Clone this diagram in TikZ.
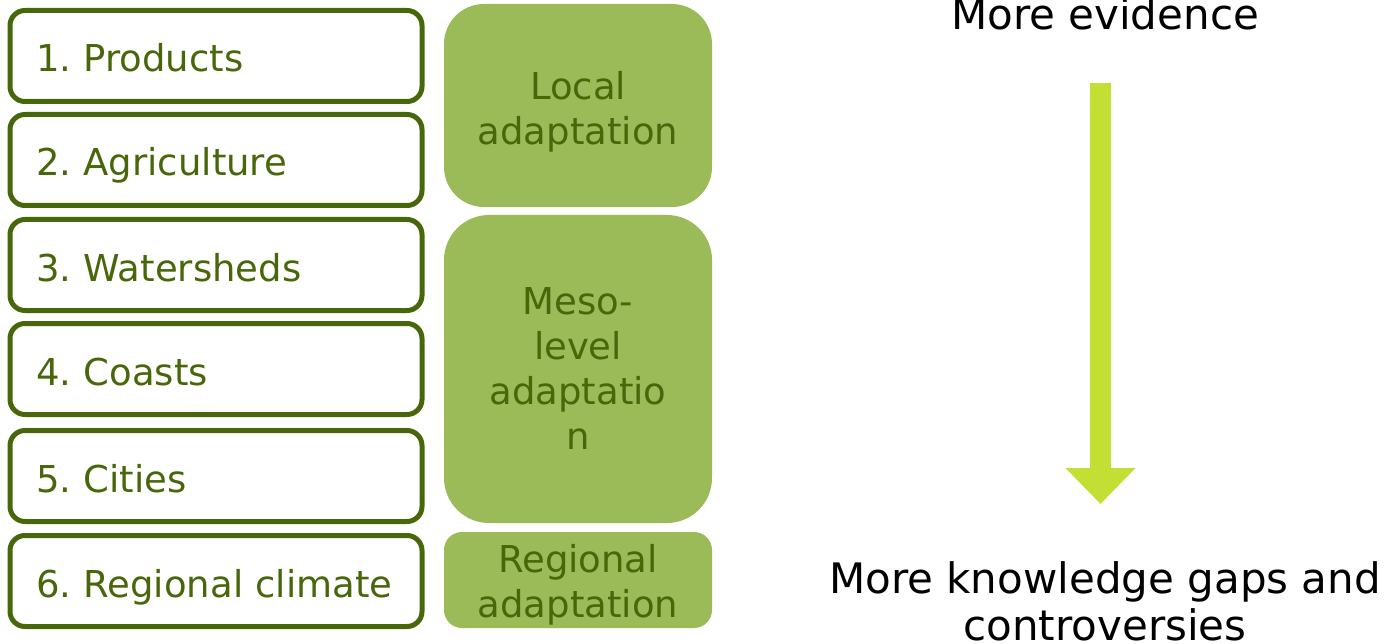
\documentclass[tikz,border=0pt]{standalone}
\usepackage{fontspec}
\setmainfont{DejaVu Sans}
\usetikzlibrary{arrows.meta}
\frenchspacing

\definecolor{leafdark}{RGB}{72,102,10}
\definecolor{olivefill}{RGB}{155,187,89}
\definecolor{limearrow}{RGB}{196,223,51}

\begin{document}
\begin{tikzpicture}[
        x=1pt, y=-1pt,
        scalebox/.style={draw=leafdark,line width=5pt,rounded corners=15pt,
            minimum width=412pt,minimum height=91pt,text width=368pt,inner xsep=22pt,
            align=left,text height=32pt,text depth=0pt,text=leafdark,
            font=\fontsize{37}{45}\selectfont},
        adaptbox/.style={fill=olivefill,minimum width=268pt,minimum height=#1,
            align=center,text=leafdark,inner sep=0pt,
            font=\fontsize{37}{45}\selectfont},
        trendtext/.style={align=center,text=black,font=\fontsize{42}{47}\selectfont}
    ]
        \useasboundingbox (0,0) rectangle (1388,644);

        % scales
        \node [scalebox] (products)    at (216,56)  {\hspace*{4pt}1. Products};
        \node [scalebox] (agriculture) at (216,160) {\hspace*{4pt}2. Agriculture};
        \node [scalebox] (watersheds)  at (216,265) {\hspace*{4pt}3. Watersheds};
        \node [scalebox] (coasts)      at (216,369) {\hspace*{4pt}4. Coasts};
        \node [scalebox] (cities)      at (216,476) {\hspace*{4pt}5. Cities};
        \node [scalebox] (climate)     at (216,581) {\hspace*{4pt}6. Regional climate};

        % adaptation levels
        \node [adaptbox=203pt,rounded corners=40pt] (local)    at (578,105.5) {\rule{0pt}{40pt}Local\\adaptation};
        \node [adaptbox=308pt,rounded corners=45pt] (meso)     at (578,369)   {Meso-\\level\\adaptatio\\n};
        \node [adaptbox=96pt,rounded corners=18pt]  (regional) at (578,580)   {\rule{0pt}{38pt}Regional\\adaptation};

        % evidence trend
        \node [trendtext] (evidence) at (1105,14)  {More evidence};
        \node [trendtext] (gaps)     at (1105,601) {More knowledge gaps and\\controversies};
        \coordinate (trendtop) at (1100.5,83);
        \coordinate (trendtip) at (1100.5,504);
        \draw [limearrow,line width=21pt,-{Triangle[width=68pt,length=36pt]}] (trendtop) -- (trendtip);
    \end{tikzpicture}
\end{document}
